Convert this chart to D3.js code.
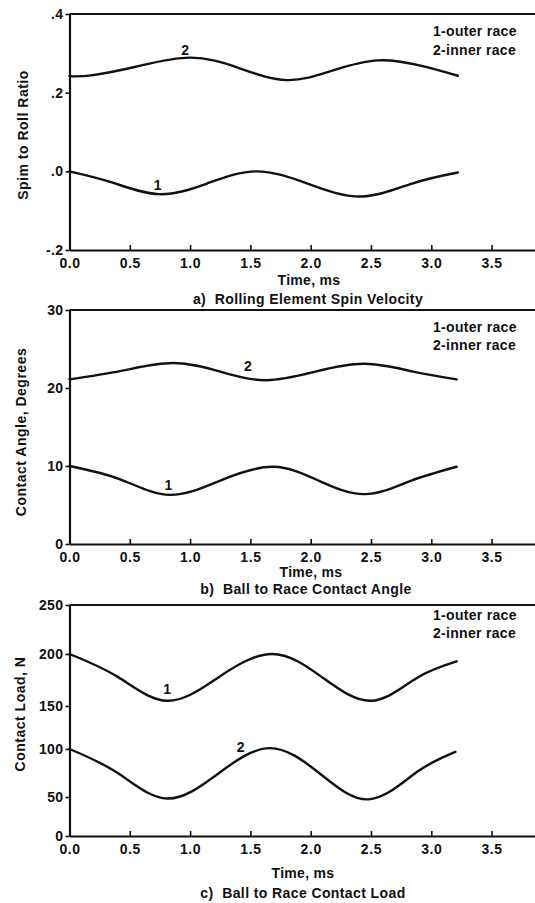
<!DOCTYPE html>
<html>
<head>
<meta charset="utf-8">
<script src="https://cdn.jsdelivr.net/npm/d3@7"></script>
<style>
  html, body { margin: 0; padding: 0; background: #fff; }
  svg { display: block; }
  text { font-family: "Liberation Sans", Arial, Helvetica, sans-serif; font-weight: bold; fill: #111; }
</style>
</head>
<body>
<svg id="chart" width="535" height="903"></svg>
<script>
// ---------------- data ----------------
const timeTicks = [0, 0.5, 1.0, 1.5, 2.0, 2.5, 3.0, 3.5];
const timeTickLabels = ["0.0", "0.5", "1.0", "1.5", "2.0", "2.5", "3.0", "3.5"];
const legendLabels = ["1-outer race", "2-inner race"];

// a) Rolling element spin velocity (spin to roll ratio)
const spinTicks = [-0.2, 0.0, 0.2, 0.4];
const spinTickLabels = ["-.2", ".0", ".2", ".4"];
const spinOuterT = [0, 0.35, 0.74, 1.14, 1.55, 1.98, 2.42, 2.84, 3.22];
const spinOuterV = [0.0, -0.028, -0.058, -0.031, 0.0, -0.032, -0.064, -0.031, -0.003];
const spinInnerT = [0, 0.18, 0.55, 1.0, 1.4, 1.8, 2.18, 2.56, 2.92, 3.22];
const spinInnerV = [0.242, 0.244, 0.266, 0.289, 0.263, 0.232, 0.256, 0.282, 0.268, 0.243];

// b) Ball to race contact angle (degrees)
const angleTicks = [0, 10, 20, 30];
const angleOuterT = [0, 0.42, 0.83, 1.26, 1.69, 2.07, 2.45, 2.83, 3.21];
const angleOuterV = [10.0, 8.3, 6.3, 8.2, 9.9, 8.1, 6.4, 8.1, 9.9];
const angleInnerT = [0, 0.43, 0.86, 1.25, 1.63, 2.04, 2.45, 2.85, 3.21];
const angleInnerV = [21.1, 22.2, 23.2, 22.1, 21.0, 22.1, 23.1, 22.1, 21.1];

// c) Ball to race contact load (N)
const loadTicks = [0, 50, 100, 150, 200, 250];
const loadOuterT = [0, 0.4, 0.81, 1.24, 1.68, 2.09, 2.5, 2.88, 3.21];
const loadOuterV = [200, 178, 155, 178, 200, 178, 155, 177, 193];
const loadInnerT = [0, 0.4, 0.81, 1.24, 1.66, 2.07, 2.48, 2.88, 3.2];
const loadInnerV = [100, 75, 48, 75, 101, 75, 47, 76, 97];

// ---------------- layout ----------------
const svg = d3.select("#chart");
const W = 535;
const x = d3.scaleLinear().domain([0, 3.86]).range([69.5, W]);

const panels = [
  {
    y: d3.scaleLinear().domain([-0.2, 0.4]).range([250, 14]),
    ticks: spinTicks, tickLabels: spinTickLabels,
    series: [[spinOuterT, spinOuterV], [spinInnerT, spinInnerV]],
    marks: [{t: 0.73, v: -0.035, s: "1"}, {t: 0.96, v: 0.308, s: "2"}],
    yTitle: "Spim to Roll Ratio", yTitlePos: [23, 135],
    legendY: [31, 50],
    timeLabelPos: [309, 280], caption: "a)  Rolling Element Spin Velocity", captionPos: [308, 299]
  },
  {
    y: d3.scaleLinear().domain([0, 30]).range([544, 310]),
    ticks: angleTicks, tickLabels: angleTicks.map(String),
    series: [[angleOuterT, angleOuterV], [angleInnerT, angleInnerV]],
    marks: [{t: 0.82, v: 7.56, s: "1"}, {t: 1.48, v: 22.8, s: "2"}],
    yTitle: "Contact Angle, Degrees", yTitlePos: [21, 432],
    legendY: [327, 345],
    timeLabelPos: [311, 572], caption: "b)  Ball to Race Contact Angle", captionPos: [306, 589]
  },
  {
    y: d3.scaleLinear().domain(loadTicks).range([836, 797, 749, 706, 654, 605]),
    ticks: loadTicks, tickLabels: loadTicks.map(String),
    series: [[loadOuterT, loadOuterV], [loadInnerT, loadInnerV]],
    marks: [{t: 0.81, v: 166, s: "1"}, {t: 1.42, v: 102, s: "2"}],
    yTitle: "Contact Load, N", yTitlePos: [20, 714],
    legendY: [615, 633],
    timeLabelPos: [303, 873], caption: "c)  Ball to Race Contact Load", captionPos: [303, 893]
  }
];

const line = d3.line().curve(d3.curveNatural);

panels.forEach(p => {
  const g = svg.append("g");
  const y = p.y;
  const yMin = y(p.ticks[0]);
  const yMax = y(p.ticks[p.ticks.length - 1]);

  // x axis (ticks pointing inward)
  const xa = g.append("g").attr("transform", `translate(0,${yMin})`)
    .call(d3.axisBottom(x).tickValues(timeTicks)
      .tickFormat((d, i) => timeTickLabels[i])
      .tickSizeInner(-5).tickSizeOuter(0).tickPadding(8));
  xa.select(".domain").attr("stroke", "#111").attr("stroke-width", 2.2);
  xa.selectAll(".tick line").attr("stroke", "#111").attr("stroke-width", 1.6);
  xa.selectAll(".tick text").style("font-size", "14px").style("letter-spacing", "0.6px")
    .attr("fill", "#111");

  // y axis
  const ya = g.append("g").attr("transform", `translate(${x(0)},0)`)
    .call(d3.axisLeft(y).tickValues(p.ticks)
      .tickFormat((d, i) => p.tickLabels[i])
      .tickSizeInner(4).tickSizeOuter(0).tickPadding(2));
  ya.select(".domain").attr("stroke", "#111").attr("stroke-width", 2.2);
  ya.selectAll(".tick line").attr("stroke", "#111").attr("stroke-width", 1.6);
  ya.selectAll(".tick text").style("font-size", "14px").style("letter-spacing", "0.4px")
    .attr("fill", "#111");

  // top frame line
  g.append("line")
    .attr("x1", x(0)).attr("x2", W)
    .attr("y1", yMax).attr("y2", yMax)
    .attr("stroke", "#111").attr("stroke-width", 2);

  // curves
  p.series.forEach(([ts, vs]) => {
    const pts = ts.map((t, i) => [x(t), y(vs[i])]);
    g.append("path").attr("d", line(pts))
      .attr("fill", "none").attr("stroke", "#111").attr("stroke-width", 2.4)
      .attr("stroke-linejoin", "round").attr("stroke-linecap", "round");
  });

  // curve numbers
  p.marks.forEach(m => {
    g.append("text").attr("x", x(m.t)).attr("y", y(m.v))
      .attr("text-anchor", "middle").attr("dominant-baseline", "central")
      .style("font-size", "14px").text(m.s);
  });

  // legend
  legendLabels.forEach((s, i) => {
    g.append("text").attr("x", 433).attr("y", p.legendY[i])
      .attr("dominant-baseline", "central")
      .style("font-size", "14px").style("letter-spacing", "0.3px").text(s);
  });

  // y title
  g.append("text")
    .attr("transform", `translate(${p.yTitlePos[0]},${p.yTitlePos[1]}) rotate(-90)`)
    .attr("text-anchor", "middle").attr("dominant-baseline", "central")
    .style("font-size", "14px").style("letter-spacing", "0.5px").text(p.yTitle);

  // x title and caption
  g.append("text").attr("x", p.timeLabelPos[0]).attr("y", p.timeLabelPos[1])
    .attr("text-anchor", "middle").attr("dominant-baseline", "central")
    .style("font-size", "14px").style("letter-spacing", "0.3px").text("Time, ms");
  g.append("text").attr("x", p.captionPos[0]).attr("y", p.captionPos[1])
    .attr("text-anchor", "middle").attr("dominant-baseline", "central")
    .style("font-size", "14px").style("letter-spacing", "0.4px").style("white-space", "pre")
    .text(p.caption);
});
</script>
</body>
</html>
